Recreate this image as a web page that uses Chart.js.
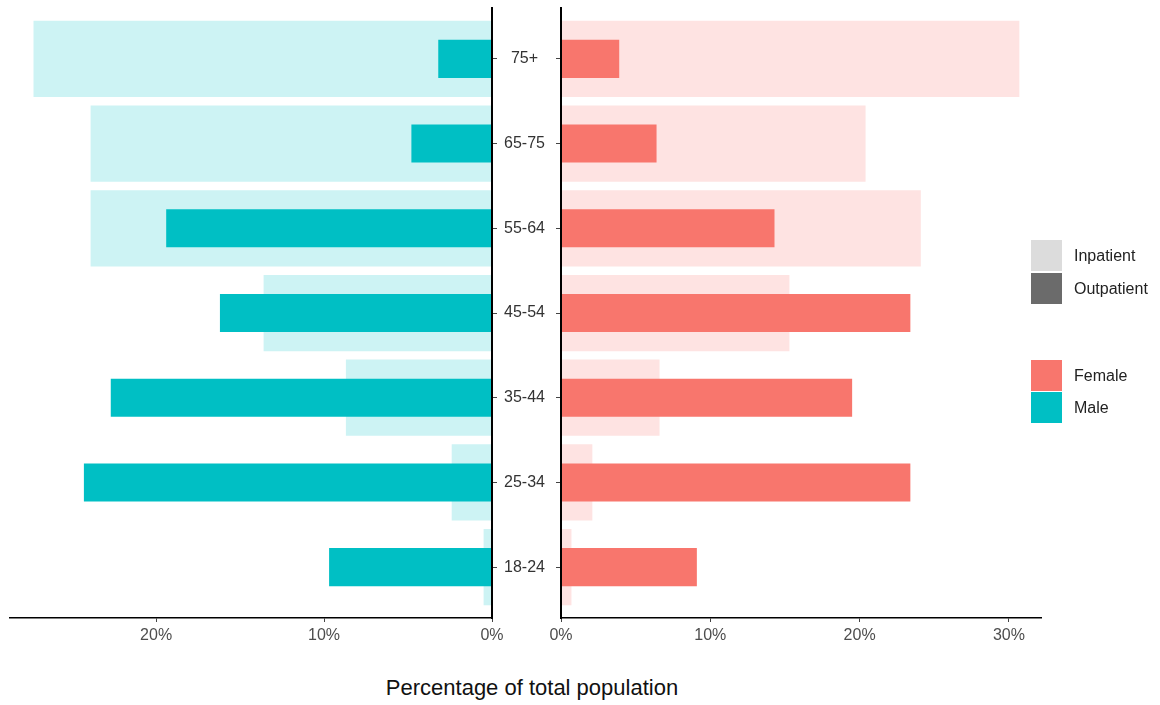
<!DOCTYPE html>
<html>
<head>
<meta charset="utf-8">
<script src="https://cdn.jsdelivr.net/npm/chart.js@4.4.0/dist/chart.umd.min.js"></script>
<style>
  body { margin: 0; background: #fff; width: 1160px; height: 705px; position: relative; overflow: hidden;
         font-family: "Liberation Sans", Arial, sans-serif; }
  canvas { position: absolute; top: 0; }
  #maleChart { left: 0; }
  #femaleChart { left: 530px; }
  .axis-title { position: absolute; left: 0; width: 1064px; top: 675px; text-align: center; font-size: 22px; color: #111; }
  .key { position: absolute; left: 1031px; width: 31px; height: 31px; }
  .key-label { position: absolute; left: 1074px; font-size: 16px; color: #222; line-height: 31px; }
</style>
</head>
<body>
<canvas id="maleChart" width="561" height="650"></canvas>
<canvas id="femaleChart" width="526" height="650"></canvas>
<div class="axis-title">Percentage of total population</div>

<div class="key" style="top:240px;background:#dcdcdc"></div><div class="key-label" style="top:240px">Inpatient</div>
<div class="key" style="top:273px;background:#6b6b6b"></div><div class="key-label" style="top:273px">Outpatient</div>
<div class="key" style="top:360px;background:#f8766d"></div><div class="key-label" style="top:360px">Female</div>
<div class="key" style="top:392px;background:#00bfc4"></div><div class="key-label" style="top:392px">Male</div>

<script>
const ageGroups = ['75+', '65-75', '55-64', '45-54', '35-44', '25-34', '18-24'];
const maleInpatient = [27.3, 23.9, 23.9, 13.6, 8.7, 2.4, 0.5];
const maleOutpatient = [3.2, 4.8, 19.4, 16.2, 22.7, 24.3, 9.7];
const femaleInpatient = [30.7, 20.4, 24.1, 15.3, 6.6, 2.1, 0.7];
const femaleOutpatient = [3.9, 6.4, 14.3, 23.4, 19.5, 23.4, 9.1];
const maleTicks = [0, 10, 20];
const femaleTicks = [0, 10, 20, 30];

const tickFont = { family: '"Liberation Sans", Arial, sans-serif', size: 16 };

// bars sit on a numeric y axis so the ends can get ggplot's 0.6 padding
function toPoints(values) {
    return values.map((v, i) => ({ x: v, y: i }));
}

function barSets(inpatient, outpatient, light, dark) {
    return [{
        data: toPoints(outpatient),
        backgroundColor: dark,
        barPercentage: 0.45,
        categoryPercentage: 1,
        grouped: false,
        order: 1
    }, {
        data: toPoints(inpatient),
        backgroundColor: light,
        barPercentage: 0.9,
        categoryPercentage: 1,
        grouped: false,
        order: 2
    }];
}

function xAxis(max, reverse, tickValues) {
    return {
        type: 'linear',
        min: 0,
        max: max,
        reverse: reverse,
        afterBuildTicks: s => { s.ticks = tickValues.map(v => ({ value: v })); },
        afterFit: s => { s.height = 30; },
        ticks: { callback: v => v + '%', font: tickFont, color: '#4d4d4d', maxRotation: 0, autoSkip: false, padding: 4 },
        grid: { drawOnChartArea: false, tickLength: 4, color: '#444' },
        border: { color: '#000', width: 1.5 }
    };
}

// tick marks go above the bars (z 1) and the axis line after them (z 2)
function yAxis(position, width, showLabels) {
    return {
        type: 'linear',
        position: position,
        reverse: true,
        offset: false,
        min: -0.6,
        max: 6.6,
        afterBuildTicks: s => { s.ticks = ageGroups.map((g, i) => ({ value: i })); },
        afterFit: s => { s.width = width; s.paddingTop = 0; s.paddingBottom = 0; },
        ticks: { callback: v => showLabels ? ageGroups[v] : '', crossAlign: 'center', padding: 7, font: tickFont, color: '#333' },
        grid: { drawOnChartArea: false, offset: false, tickLength: 5, color: '#444', z: 1 },
        border: { color: '#000', width: 2, z: 2 }
    };
}

let maleChart = new Chart(document.getElementById('maleChart'), {
    type: 'bar',
    data: { datasets: barSets(maleInpatient, maleOutpatient, '#cdf3f4', '#00bfc4') },
    options: {
        indexAxis: 'y',
        responsive: false,
        animation: false,
        layout: { padding: { left: 10, top: 8, right: 0, bottom: 2 } },
        plugins: { legend: { display: false }, tooltip: { enabled: false } },
        scales: {
            x: xAxis(28.7, true, maleTicks),
            y: yAxis('right', 69, true)
        }
    }
});

let femaleChart = new Chart(document.getElementById('femaleChart'), {
    type: 'bar',
    data: { datasets: barSets(femaleInpatient, femaleOutpatient, '#fee3e2', '#f8766d') },
    options: {
        indexAxis: 'y',
        responsive: false,
        animation: false,
        layout: { padding: { left: 26, top: 8, right: 15, bottom: 2 } },
        plugins: { legend: { display: false }, tooltip: { enabled: false } },
        scales: {
            x: xAxis(32.15, false, femaleTicks),
            y: yAxis('left', 5, false)
        }
    }
});
</script>
</body>
</html>
